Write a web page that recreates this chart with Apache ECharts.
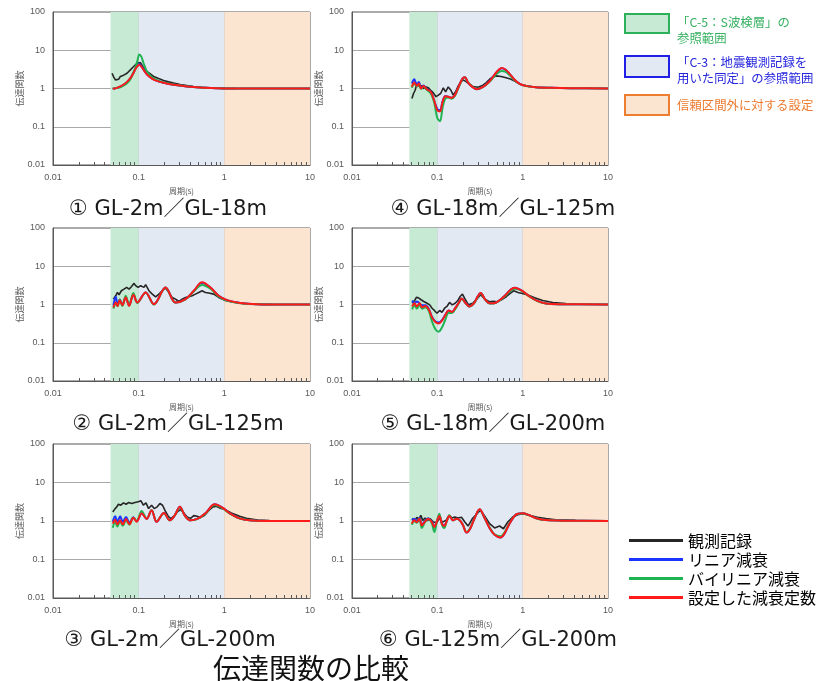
<!DOCTYPE html>
<html>
<head>
<meta charset="utf-8">
<script src="https://cdn.jsdelivr.net/npm/echarts@6/dist/echarts.min.js"></script>
<style>
html,body{margin:0;padding:0;background:#fff;}
#chart{width:827px;height:681px;}
</style>
</head>
<body>
<div id="chart"></div>
<script>
// ---- Transfer functions: period T (s) and amplitude ratio H ----
// ① GL-2m / GL-18m
const obsT1 = [0.0489,0.0512,0.0535,0.056,0.0585,0.0611,0.064,0.0668,0.07,0.0731,0.0764,0.08,0.0836,0.0875,0.0914,0.0957,0.1,0.1045,0.1093,0.1144,0.125,0.1367,0.1496,0.171,0.1955,0.2239,0.256,0.3057,0.3654,0.4375,0.5228,0.684,0.891,1.17,1.4];
const obsH1 = [2.51,1.98,1.68,1.82,1.75,2.06,1.9,2.23,2.14,2.51,2.61,3.07,3.39,3.75,4.14,4.58,4.96,4.77,4.06,3.39,2.78,2.41,2.06,1.82,1.62,1.49,1.38,1.27,1.2,1.13,1.08,1.04,1.02,1.0,1.0];
const modelT1 = [0.0498,0.056,0.0611,0.0668,0.0731,0.08,0.0859,0.0914,0.0973,0.1018,0.1074,0.1144,0.125,0.1429,0.1637,0.1955,0.256,0.3654,0.5228,0.818,1.28,10];
const linearH1 = [0.98,1.04,1.12,1.25,1.47,1.85,2.42,3.25,4.0,4.3,3.85,3.1,2.35,1.83,1.59,1.42,1.25,1.13,1.06,1.02,1.0,1.0];
const bilinearH1 = [0.98,1.04,1.08,1.2,1.38,1.75,2.5,3.4,5.6,7.8,6.8,4.5,2.8,1.98,1.65,1.43,1.27,1.15,1.06,1.02,1.0,1.0];
const settingH1 = [0.98,1.04,1.13,1.27,1.49,1.86,2.41,3.19,3.9,4.14,3.75,3.07,2.32,1.82,1.58,1.41,1.25,1.13,1.06,1.02,1.0,1.0];

// ② GL-2m / GL-125m
const obsT2 = [0.0507,0.054,0.0565,0.059,0.0628,0.0674,0.0724,0.0773,0.0822,0.0883,0.0923,0.0982,0.1055,0.1153,0.1206,0.1318,0.1442,0.1577,0.1723,0.1884,0.206,0.2254,0.2462,0.2692,0.2943,0.322,0.352,0.385,0.421,0.46,0.503,0.55,0.601,0.658,0.752,0.859,1.0,1.28,1.68,2.4,3.75];
const obsH2 = [1.38,1.69,2.07,1.8,2.29,2.53,2.8,2.53,2.92,3.57,3.1,2.8,3.1,2.8,3.3,2.29,1.87,1.59,1.87,2.29,2.69,2.07,1.53,1.38,1.2,1.38,1.53,1.59,1.69,1.87,2.07,2.29,2.07,1.99,1.87,1.53,1.3,1.15,1.06,1.02,1.0];
const modelT2 = [0.0507,0.054,0.0567,0.0601,0.0645,0.0706,0.0773,0.0867,0.0965,0.1206,0.1507,0.206,0.2692,0.352,0.44,0.55,0.687,0.859,1.074,1.53,2.4,5.36,10];
const linearH2 = [0.95,1.6,1.0,1.35,0.98,1.55,0.95,1.8,1.13,2.07,1.02,2.8,1.13,1.38,2.27,3.7,2.78,1.68,1.29,1.1,1.02,1.0,1.0];
const bilinearH2 = [0.78,1.05,0.9,1.35,0.92,1.69,0.95,2.0,1.1,2.07,1.0,2.75,1.12,1.36,2.2,3.25,2.6,1.62,1.26,1.08,1.01,1.0,1.0];
const settingH2 = [0.83,1.13,0.92,1.3,0.96,1.53,0.92,1.8,1.13,2.07,1.02,2.8,1.13,1.38,2.29,3.79,2.8,1.69,1.3,1.1,1.02,1.0,1.0];

// ③ GL-2m / GL-200m
const obsT3 = [0.0499,0.0521,0.0555,0.058,0.0618,0.0664,0.0713,0.0766,0.0829,0.0906,0.0991,0.1064,0.1133,0.1217,0.1306,0.1415,0.152,0.1648,0.177,0.19,0.204,0.2213,0.2377,0.2576,0.2818,0.308,0.3365,0.368,0.4027,0.44,0.481,0.526,0.59,0.664,0.738,0.807,0.898,1.01,1.205,1.51,1.88,2.46,3.37];
const obsH3 = [1.72,1.98,2.33,2.73,2.57,2.96,2.73,3.02,2.85,3.02,3.15,3.34,2.57,2.96,2.1,2.57,2.1,2.33,2.85,2.57,1.83,1.33,1.15,1.33,1.72,1.98,1.62,1.27,1.17,1.38,1.33,1.22,1.41,1.9,2.33,2.42,2.15,1.98,1.62,1.33,1.15,1.06,1.02];
const modelT3 = [0.0499,0.0531,0.0565,0.0607,0.0652,0.0713,0.0779,0.0867,0.0948,0.1083,0.124,0.1415,0.1618,0.1972,0.2314,0.2642,0.3027,0.346,0.4027,0.481,0.607,0.773,0.949,1.175,1.51,1.97,3.07,10];
const linearH3 = [0.95,1.33,0.95,1.33,0.95,1.27,0.9,1.25,0.98,1.6,1.13,1.9,0.96,1.62,1.04,1.41,2.33,1.38,1.04,1.13,1.62,2.72,2.22,1.56,1.17,1.04,1.0,1.0];
const bilinearH3 = [0.67,0.95,0.72,1.0,0.75,1.05,0.8,1.22,1.0,1.83,1.15,1.92,0.98,1.6,1.04,1.4,2.28,1.37,1.04,1.12,1.58,2.6,2.15,1.52,1.16,1.04,1.0,1.0];
const settingH3 = [0.85,1.08,0.82,1.04,0.82,1.13,0.82,1.22,0.96,1.56,1.13,1.9,0.96,1.62,1.04,1.41,2.33,1.38,1.04,1.13,1.62,2.73,2.23,1.56,1.17,1.04,1.0,1.0];

// ④ GL-18m / GL-125m
const obsT4 = [0.0504,0.0526,0.055,0.0575,0.0601,0.0628,0.0657,0.0687,0.0738,0.0785,0.0836,0.0898,0.0965,0.1027,0.1093,0.1175,0.125,0.1342,0.1442,0.1535,0.165,0.1755,0.1868,0.2004,0.2193,0.2398,0.2624,0.3,0.3428,0.375,0.4095,0.4477,0.4897,0.56,0.64,0.7315,0.8358,0.957,1.094,1.43,2.04,2.92];
const obsH4 = [0.548,0.74,0.9,1.35,1.17,1.04,1.17,1.0,1.1,1.04,0.9,0.77,0.61,0.67,0.74,1.04,0.82,1.1,0.9,0.67,0.85,1.17,1.43,1.68,1.49,1.27,1.13,1.08,1.22,1.43,1.75,2.01,2.14,2.06,1.9,1.75,1.49,1.27,1.17,1.08,1.04,1.02];
const modelT4 = [0.0504,0.0536,0.0575,0.0607,0.0645,0.0687,0.0752,0.0836,0.0914,0.1,0.1074,0.1153,0.124,0.1342,0.147,0.1604,0.1755,0.1972,0.21,0.229,0.2576,0.2918,0.3428,0.4095,0.4688,0.5213,0.57,0.6237,0.7,0.8,0.914,1.094,1.43,2.23,3.81,10];
const linearH4 = [1.35,1.75,1.27,1.49,1.02,1.2,0.97,0.82,0.5,0.29,0.27,0.46,0.64,0.61,0.57,0.67,1.04,1.82,1.97,1.43,1.1,0.96,1.1,1.55,2.3,3.0,3.38,3.12,2.42,1.7,1.34,1.17,1.08,1.04,1.02,1.0];
const bilinearH4 = [1.05,1.38,1.12,1.3,0.98,1.12,0.92,0.75,0.45,0.17,0.14,0.32,0.55,0.58,0.54,0.64,1.0,1.78,1.95,1.45,1.12,0.97,1.1,1.5,2.12,2.62,2.85,2.75,2.25,1.65,1.32,1.16,1.07,1.04,1.02,1.0];
const settingH4 = [1.1,1.43,1.17,1.35,1.0,1.17,0.96,0.82,0.5,0.27,0.25,0.45,0.63,0.61,0.57,0.67,1.04,1.82,1.97,1.43,1.1,0.96,1.1,1.55,2.32,3.07,3.46,3.19,2.46,1.72,1.35,1.17,1.08,1.04,1.02,1.0];

// ⑤ GL-18m / GL-200m
const obsT5 = [0.0507,0.0541,0.057,0.0607,0.0645,0.0693,0.0758,0.0815,0.0867,0.0923,0.0991,0.1064,0.1133,0.1217,0.1294,0.139,0.1493,0.1618,0.1738,0.185,0.197,0.2117,0.2314,0.26,0.289,0.322,0.3614,0.4064,0.452,0.5,0.565,0.646,0.72,0.786,0.883,0.991,1.153,1.38,1.72,2.25,3.22,4.6];
const obsH5 = [1.08,1.27,1.56,1.47,1.33,1.2,1.08,0.98,0.8,0.7,0.59,0.7,0.62,0.8,0.89,1.13,0.98,1.08,1.27,1.62,1.87,1.38,0.98,1.08,1.38,1.8,1.38,1.18,1.22,1.18,1.33,1.62,1.99,2.29,2.07,1.95,1.76,1.5,1.27,1.13,1.06,1.02];
const modelT5 = [0.0507,0.0541,0.0575,0.0618,0.0664,0.0725,0.0793,0.0867,0.0948,0.1037,0.1133,0.124,0.1355,0.1483,0.1618,0.177,0.1936,0.2117,0.2377,0.2692,0.2943,0.322,0.3614,0.4064,0.46,0.531,0.618,0.72,0.807,0.906,1.01,1.205,1.51,1.88,2.94,10];
const linearH5 = [1.27,1.08,1.2,1.08,0.95,0.95,0.78,0.47,0.36,0.34,0.39,0.54,0.7,0.64,0.8,1.08,1.44,1.13,0.89,1.08,1.56,1.99,1.38,1.08,1.08,1.27,1.69,2.42,2.73,2.52,2.19,1.62,1.22,1.06,1.02,1.0];
const bilinearH5 = [0.75,0.95,0.78,0.98,0.78,0.85,0.68,0.36,0.225,0.195,0.25,0.4,0.6,0.6,0.76,1.05,1.42,1.12,0.88,1.07,1.52,1.95,1.37,1.07,1.07,1.25,1.64,2.3,2.6,2.45,2.15,1.6,1.21,1.06,1.02,1.0];
const settingH5 = [0.89,1.08,0.89,1.08,0.85,0.92,0.75,0.46,0.35,0.32,0.38,0.53,0.7,0.64,0.8,1.08,1.44,1.13,0.89,1.08,1.56,1.99,1.38,1.08,1.08,1.27,1.69,2.43,2.75,2.53,2.2,1.62,1.22,1.06,1.02,1.0];

// ⑥ GL-125m / GL-200m
const obsT6 = [0.0504,0.0526,0.055,0.0575,0.0607,0.064,0.0674,0.0719,0.0766,0.0822,0.0898,0.0982,0.1055,0.1153,0.1262,0.138,0.1483,0.1604,0.1754,0.1919,0.21,0.2291,0.2576,0.2918,0.319,0.3581,0.4095,0.4688,0.5358,0.596,0.6694,0.7652,0.875,1.0,1.196,1.493,1.866,2.44,4.17];
const obsH6 = [1.15,1.27,1.04,1.25,1.1,1.41,1.04,1.2,1.02,1.15,0.94,0.9,1.15,0.94,1.04,1.41,1.2,1.27,1.2,1.25,0.94,0.74,1.15,1.55,1.9,1.35,0.85,0.66,0.74,0.63,0.94,1.27,1.46,1.55,1.41,1.25,1.15,1.08,1.04];
const modelT6 = [0.0504,0.0536,0.0575,0.0618,0.0658,0.0719,0.0786,0.0859,0.0923,0.0982,0.1055,0.1133,0.1205,0.1284,0.138,0.1535,0.1679,0.1837,0.2005,0.2193,0.2398,0.274,0.313,0.3581,0.4095,0.4688,0.55,0.612,0.7,0.835,1.0,1.196,1.493,1.866,3.19,10];
const linearH6 = [1.04,1.15,0.98,1.2,0.8,1.02,1.18,0.96,0.72,0.95,1.38,0.86,0.75,0.98,1.35,1.04,1.15,1.04,0.77,0.5,0.6,1.2,2.0,1.2,0.66,0.44,0.375,0.47,0.85,1.46,1.58,1.41,1.15,1.06,1.02,1.0];
const bilinearH6 = [0.8,1.0,0.9,1.12,0.66,0.95,1.12,0.9,0.52,0.9,1.55,0.8,0.66,0.95,1.4,1.04,1.15,1.04,0.78,0.52,0.62,1.2,1.98,1.2,0.68,0.45,0.4,0.5,0.87,1.45,1.56,1.4,1.15,1.06,1.02,1.0];
const settingH6 = [0.85,1.04,0.94,1.15,0.77,0.98,1.15,0.94,0.7,0.94,1.35,0.85,0.74,0.98,1.35,1.04,1.15,1.04,0.77,0.5,0.6,1.2,2.01,1.2,0.66,0.44,0.375,0.47,0.85,1.46,1.58,1.41,1.15,1.06,1.02,1.0];

// ---- Labels and ranges ----
const seriesNames = ['観測記録', 'リニア減衰', 'バイリニア減衰', '設定した減衰定数'];
const panelCaptions = ['① GL-2m／GL-18m', '② GL-2m／GL-125m', '③ GL-2m／GL-200m',
                       '④ GL-18m／GL-125m', '⑤ GL-18m／GL-200m', '⑥ GL-125m／GL-200m'];
const bandRanges = [[0.047, 0.1], [0.1, 1], [1, 10]];
const periodRange = [0.01, 10];
const ratioRange = [0.01, 100];
const bandLegendLines = [
  ['「C-5：S波検層」の', '参照範囲'],
  ['「C-3：地震観測記録を', '用いた同定」の参照範囲'],
  ['信頼区間外に対する設定']
];
const chartTitle = '伝達関数の比較';

// ---- Styling ----
const seriesColors = ['#262626', '#1a33ff', '#1fb352', '#ff1a1a'];
const seriesWidths = [1.6, 2, 2, 2];
const bandColors = ['#c6ead4', '#e3e9f3', '#fbe4d0'];
const bandEdgeColors = ['#2db05a', '#1f1fe6', '#ed7d31'];
const bandTextColors = ['#34b060', '#2525dd', '#ec7a30'];
const gridRects = [
  [53, 12, 257, 153], [53, 228, 257, 153], [53, 444, 257, 154],
  [352, 12, 256, 153], [352, 228, 256, 153], [352, 444, 256, 154]
];
const captionPos = [[168, 210], [178, 425], [170, 641], [503, 210], [493, 425], [498, 641]];

const panels = [
  {obsT: obsT1, obsH: obsH1, modelT: modelT1, models: [linearH1, bilinearH1, settingH1]},
  {obsT: obsT2, obsH: obsH2, modelT: modelT2, models: [linearH2, bilinearH2, settingH2]},
  {obsT: obsT3, obsH: obsH3, modelT: modelT3, models: [linearH3, bilinearH3, settingH3]},
  {obsT: obsT4, obsH: obsH4, modelT: modelT4, models: [linearH4, bilinearH4, settingH4]},
  {obsT: obsT5, obsH: obsH5, modelT: modelT5, models: [linearH5, bilinearH5, settingH5]},
  {obsT: obsT6, obsH: obsH6, modelT: modelT6, models: [linearH6, bilinearH6, settingH6]}
];

// minor tick positions (2..9 within each decade) on a log10-linear helper axis
const minorTickExps = [];
for (let d = -2; d <= 0; d++) {
  for (let k = 2; k <= 9; k++) minorTickExps.push(d + Math.log10(k));
}

const pair = (xs, ys) => xs.map((x, i) => [x, ys[i]]);
const fmt = v => String(+Number(v).toPrecision(2));
const axisGray = '#595959';

const grid = [], xAxis = [], yAxis = [], series = [];
panels.forEach((p, i) => {
  const r = gridRects[i];
  grid.push({left: r[0], top: r[1], width: r[2], height: r[3], show: true,
    backgroundColor: 'rgba(0,0,0,0)', borderColor: axisGray, borderWidth: 1, z: 1});
  xAxis.push({
    type: 'log', logBase: 10, gridIndex: i, min: periodRange[0], max: periodRange[1], z: 1,
    name: '周期(s)', nameLocation: 'middle', nameGap: 22,
    nameTextStyle: {fontSize: 8, color: axisGray, fontFamily: 'Noto Sans CJK JP'},
    axisLine: {show: true, onZero: false, lineStyle: {color: axisGray, width: 1}},
    axisTick: {show: false},
    axisLabel: {fontSize: 9, color: axisGray, margin: 8, formatter: fmt, fontFamily: 'Liberation Sans'},
    splitLine: {show: true, lineStyle: {color: '#a9a9a9', width: 1}}
  });
  xAxis.push({
    type: 'value', gridIndex: i, min: -2, max: 1, position: 'bottom', z: 1,
    axisLine: {show: false, onZero: false}, axisLabel: {show: false}, splitLine: {show: false},
    axisTick: {show: true, inside: true, length: 3, lineStyle: {color: axisGray}, customValues: minorTickExps}
  });
  yAxis.push({
    type: 'log', logBase: 10, gridIndex: i, min: ratioRange[0], max: ratioRange[1], z: 1,
    position: 'left',
    name: '伝達関数', nameLocation: 'middle', nameGap: 21, nameRotate: 90,
    nameTextStyle: {fontSize: 9, color: axisGray, fontFamily: 'Noto Sans CJK JP'},
    axisLine: {show: true, onZero: false, lineStyle: {color: axisGray, width: 1}},
    axisTick: {show: false},
    axisLabel: {fontSize: 9, color: axisGray, margin: 8, formatter: fmt, fontFamily: 'Liberation Sans'},
    splitLine: {show: true, lineStyle: {color: '#a9a9a9', width: 1}}
  });
  // reference ranges drawn as shaded period bands
  series.push({
    type: 'line', xAxisIndex: 2 * i, yAxisIndex: i, data: [], z: 0, silent: true,
    markArea: {silent: true, data: bandRanges.map((b, k) => [
      {xAxis: b[0], itemStyle: {color: bandColors[k], opacity: 1}}, {xAxis: b[1]}
    ])}
  });
  const lines = [pair(p.obsT, p.obsH)].concat(p.models.map(m => pair(p.modelT, m)));
  lines.forEach((d, k) => {
    series.push({
      name: seriesNames[k], type: 'line', xAxisIndex: 2 * i, yAxisIndex: i,
      data: d, showSymbol: false, symbol: 'none', smooth: k === 0 ? false : 0.35,
      z: 2 + k, silent: true,
      lineStyle: {color: seriesColors[k], width: seriesWidths[k]},
      itemStyle: {color: seriesColors[k]}
    });
  });
});

const graphic = [];
panelCaptions.forEach((t, i) => {
  graphic.push({type: 'text', x: captionPos[i][0], y: captionPos[i][1], silent: true,
    style: {text: t, fill: '#1a1a1a', fontSize: 21, fontFamily: '"DejaVu Sans","Noto Sans CJK JP"',
            align: 'center', verticalAlign: 'middle'}});
});
graphic.push({type: 'text', x: 311, y: 668, silent: true,
  style: {text: chartTitle, fill: '#111', fontSize: 28, fontFamily: 'Noto Sans CJK JP',
          align: 'center', verticalAlign: 'middle'}});

// legend boxes for the shaded ranges
const boxTops = [14, 56, 95];
const boxHeights = [19, 21, 20];
const textTops = [[22, 38], [62, 78], [105]];
bandLegendLines.forEach((lines, k) => {
  graphic.push({type: 'rect', silent: true, shape: {x: 625, y: boxTops[k], width: 44, height: boxHeights[k]},
    style: {fill: bandColors[k], stroke: bandEdgeColors[k], lineWidth: 2}});
  lines.forEach((s, j) => {
    graphic.push({type: 'text', x: 677, y: textTops[k][j], silent: true,
      style: {text: s, fill: bandTextColors[k], fontSize: 12.4, fontFamily: 'Noto Sans CJK JP',
              align: 'left', verticalAlign: 'middle'}});
  });
});

const chart = echarts.init(document.getElementById('chart'), null, {renderer: 'canvas'});
chart.setOption({
  animation: false,
  backgroundColor: '#ffffff',
  grid, xAxis, yAxis, series, graphic,
  legend: {
    data: seriesNames, orient: 'vertical', left: 629, top: 531, padding: 0,
    icon: 'rect', itemWidth: 54, itemHeight: 3, itemGap: 0, selectedMode: false,
    textStyle: {fontSize: 16, color: '#000', lineHeight: 19, fontFamily: 'Noto Sans CJK JP'}
  }
});
</script>
</body>
</html>
